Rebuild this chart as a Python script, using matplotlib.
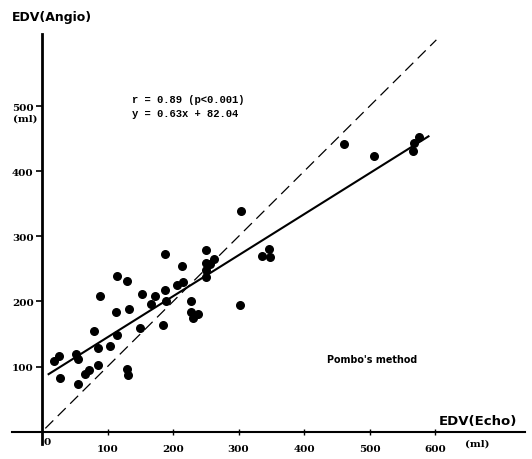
import numpy as np
import matplotlib.pyplot as plt

# EDV by echo (x) vs angio (y), ml
echo_edv = [19, 26, 27, 52, 55, 55, 65, 71, 79, 85, 86, 88, 104, 113, 115, 115,
            130, 130, 131, 133, 150, 152, 166, 172, 185, 187, 188, 190, 206, 214,
            215, 228, 228, 230, 238, 250, 250, 250, 251, 257, 262, 303, 302, 336,
            346, 348, 461, 507, 566, 568, 576]
angio_edv = [108, 116, 83, 119, 112, 73, 89, 94, 154, 129, 103, 208, 132, 184, 239, 148,
             232, 96, 87, 189, 160, 211, 196, 209, 164, 218, 273, 200, 225, 254,
             230, 200, 184, 175, 181, 279, 259, 248, 237, 257, 265, 339, 195, 270,
             280, 269, 442, 424, 431, 444, 453]

slope, intercept = 0.63, 82.04
fit_range = [10, 590]
identity_range = [5, 602]
x_ticks = [100, 200, 300, 400, 500, 600]
y_ticks = [100, 200, 300, 400, 500]

fig = plt.figure(figsize=(5.32, 4.60), dpi=100)
ax = fig.add_axes([0.0224, 0.0326, 0.964, 0.8913])
ax.set_xlim(-46, 737)
ax.set_ylim(-19, 611)

for side in ['top', 'right']:
    ax.spines[side].set_visible(False)
ax.spines['left'].set_position(('data', 0))
ax.spines['bottom'].set_position(('data', 0))
ax.spines['left'].set_linewidth(2.0)
ax.spines['bottom'].set_linewidth(1.5)

tick_font = dict(family='DejaVu Serif', weight='bold', size=7.5)
ax.set_xticks(x_ticks)
ax.set_xticklabels([str(t) for t in x_ticks], fontdict=tick_font)
ax.set_yticks(y_ticks)
ax.set_yticklabels([str(t) for t in y_ticks], fontdict=tick_font)
ax.tick_params(axis='x', direction='inout', length=4, width=1, pad=7)
ax.tick_params(axis='y', direction='out', length=4, width=1.2, pad=2)

# identity and regression lines
ax.plot(identity_range, identity_range, color='black', lw=0.9, dashes=(9, 5))
fx = np.array(fit_range)
ax.plot(fx, slope * fx + intercept, color='black', lw=1.5)

ax.scatter(echo_edv, angio_edv, s=30, color='black', zorder=3)

ax.text(7, -8, '0', ha='center', va='top', **tick_font)
ax.text(664, -11, '(ml)', ha='center', va='top', **tick_font)
ax.text(-26, 482, '(ml)', ha='center', va='center', **tick_font)

fig.text(0.0226, 0.963, 'EDV(Angio)', ha='left', va='center',
         fontsize=9, fontweight='bold', family='DejaVu Sans')
fig.text(0.972, 0.083, 'EDV(Echo)', ha='right', va='center',
         fontsize=9.5, fontweight='bold', family='DejaVu Sans')

ax.text(138, 501, 'r = 0.89 (p<0.001)\ny = 0.63x + 82.04', ha='left', va='center',
        family='Liberation Mono', fontweight='bold', fontsize=7.6, linespacing=1.5)
ax.text(504, 112, "Pombo's method", ha='center', va='center',
        family='DejaVu Sans', fontweight='bold', fontsize=6.9)

fig.savefig('out.png', dpi=100)
